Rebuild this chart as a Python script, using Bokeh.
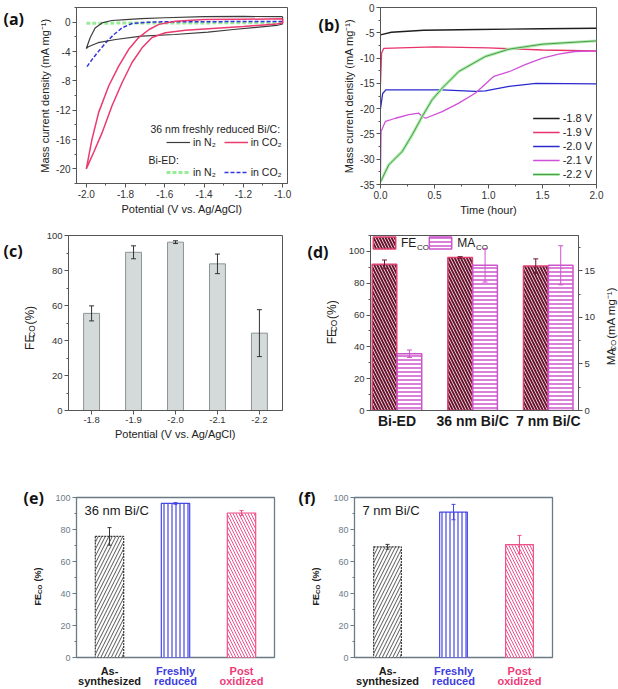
import numpy as np
from math import pi
from bokeh.plotting import figure
from bokeh.models import (Range1d, LinearAxis, SingleIntervalTicker, FixedTicker,
                          Legend, LegendItem, Label, ColumnDataSource, PrintfTickFormatter,
                          Whisker, TeeHead)
from bokeh.layouts import column, row
from bokeh.embed import file_html
from bokeh.resources import INLINE
from bokeh.core.properties import value

# ---------------- data ----------------
# (a) cyclic voltammograms (potential V vs Ag/AgCl, mass current density mA/mg)
cv36_n2_v = [-1.0, -1.03, -1.2, -1.4, -1.6, -1.72, -1.8, -1.87, -1.92, -1.955, -1.98, -2.0,
             -1.99, -1.94, -1.85, -1.72, -1.55, -1.38, -1.25, -1.03, -1.0, -1.0]
cv36_n2_j = [0.75, 0.75, 0.78, 0.75, 0.6, 0.48, 0.36, 0.23, -0.1, -0.8, -2.1, -3.6,
             -3.35, -2.8, -2.36, -1.9, -1.68, -1.36, -1.0, -0.45, -0.25, 0.75]
cv36_co2_v = [-1.0, -1.2, -1.4, -1.546, -1.63, -1.68, -1.733, -1.784, -1.835, -1.886, -1.937,
              -1.971, -2.0, -1.96, -1.92, -1.869, -1.818, -1.767, -1.716, -1.665, -1.597,
              -1.495, -1.378, -1.2, -1.03, -1.0, -1.0]
cv36_co2_j = [0.45, 0.4, 0.35, 0.14, -0.3, -1.0, -2.1, -3.7, -6.0, -8.7, -12.3,
              -15.96, -20.0, -17.6, -15.1, -11.4, -8.26, -5.5, -3.5, -2.1, -1.45,
              -1.1, -0.9, -0.6, -0.25, -0.1, 0.45]
cved_n2_v = [-2.0, -1.8, -1.6, -1.4, -1.2, -1.0]
cved_n2_j = [-0.15, -0.12, -0.1, -0.1, -0.08, -0.05]
cved_co2_v = [-1.0, -1.2, -1.4, -1.6, -1.68, -1.767, -1.818, -1.86, -1.894, -1.937, -1.971, -2.0]
cved_co2_j = [0.1, 0.1, 0.05, 0.05, 0.0, -0.18, -0.78, -1.7, -2.6, -3.95, -5.1, -6.2]

# (b) chronoamperometry (time h, mass current density mA/mg)
ca_labels = ["-1.8 V", "-1.9 V", "-2.0 V", "-2.1 V", "-2.2 V"]
ca18_t = [0, 0.1, 0.4, 0.9, 1.5, 2.0]
ca18_j = [-5.4, -4.9, -4.5, -4.35, -4.2, -4.1]
ca19_t = [0, 0.01, 0.03, 0.5, 1.0, 1.5, 2.0]
ca19_j = [-15.0, -9.0, -8.1, -7.8, -8.0, -8.4, -8.6]
ca20_t = [0, 0.02, 0.05, 0.57, 0.88, 0.97, 1.19, 1.44, 2.0]
ca20_j = [-20.0, -17.0, -16.3, -16.3, -16.6, -16.5, -15.6, -15.0, -15.1]
ca21_t = [0, 0.005, 0.046, 0.139, 0.262, 0.355, 0.386, 0.417, 0.571, 0.725, 0.88, 1.05,
          1.19, 1.34, 1.5, 1.65, 1.8, 2.0]
ca21_j = [-33.0, -24.5, -22.5, -21.9, -21.2, -20.9, -21.55, -21.9, -20.6, -18.9, -16.9, -13.6,
          -12.7, -11.3, -10.0, -9.2, -8.7, -8.56]
ca22_t = [0, 0.077, 0.2, 0.293, 0.386, 0.478, 0.571, 0.725, 0.97, 1.19, 1.5, 2.0]
ca22_j = [-34.5, -31.1, -28.5, -25.2, -21.55, -18.25, -15.95, -12.65, -9.7, -8.24, -7.25, -6.6]

# (c) FE_CO vs potential
potentials = ["-1.8", "-1.9", "-2.0", "-2.1", "-2.2"]
fe_pot = [55.5, 90.4, 96.2, 83.8, 44.2]
fe_pot_err = [4.3, 3.7, 0.8, 5.6, 13.4]

# (d) FE_CO and MA_CO per catalyst
samples = ["Bi-ED", "36 nm Bi/C", "7 nm Bi/C"]
fe_samp = [92.0, 96.2, 90.8]
fe_samp_err = [2.6, 0.5, 4.5]
ma_samp = [6.1, 15.6, 15.6]
ma_samp_err = [0.4, 1.8, 2.1]

# (e), (f) FE_CO per state
states = ["As-\nsynthesized", "Freshly\nreduced", "Post\noxidized"]
fe_36 = [75.7, 96.3, 90.3]
fe_36_err = [5.5, 0.5, 1.5]
fe_7 = [69.2, 90.9, 70.6]
fe_7_err = [1.5, 4.8, 5.7]

# ---------------- helpers ----------------
FONT = "Liberation Sans"
W = {'F': 0.611, 'E': 0.667, 'C': 0.722, 'O': 0.778, 'M': 0.833, 'A': 0.667,
     '(': 0.333, ')': 0.333, '%': 0.889, ' ': 0.278, 'm': 0.833, 'a': 0.556,
     'g': 0.556, '\u207b': 0.32, '\u00b9': 0.33}


def tw(s, size):
    return sum(W.get(c, 0.556) for c in s) * size


def make_fig(fw, fh, bl, br, bt, bb, xr, yr, line="#555555"):
    p = figure(frame_width=fw, frame_height=fh, min_border_left=bl, min_border_right=br,
               min_border_top=bt, min_border_bottom=bb, x_range=xr, y_range=yr,
               output_backend="svg", toolbar_location=None)
    p.xgrid.visible = False
    p.ygrid.visible = False
    p.outline_line_color = line
    p.outline_line_width = 1
    p.background_fill_color = "white"
    p.border_fill_color = "white"
    return p


def label_fig(w, h):
    p = figure(width=w, height=h, x_range=Range1d(0, w), y_range=Range1d(0, h),
               min_border_left=0, min_border_right=0, min_border_top=0, min_border_bottom=0,
               x_axis_location=None, y_axis_location=None,
               output_backend="svg", toolbar_location=None)
    p.outline_line_color = None
    p.grid.visible = False
    p.background_fill_color = "white"
    p.border_fill_color = "white"
    return p


def style_axis(ax, size="10px", color="#333333", line="#555555"):
    ax.axis_line_color = line
    ax.major_tick_line_color = line
    ax.minor_tick_line_color = line
    ax.major_tick_out = 4
    ax.major_tick_in = 0
    ax.minor_tick_out = 2
    ax.minor_tick_in = 0
    ax.major_label_text_font = FONT
    ax.major_label_text_font_size = size
    ax.major_label_text_color = color
    ax.major_label_standoff = 2
    ax.axis_label_text_font = FONT
    ax.axis_label_text_font_style = "normal"
    ax.axis_label_text_font_size = "11px"
    ax.axis_label_text_color = "#222222"
    ax.axis_label_standoff = 2


def panel_label(lp, text, x, y):
    lp.text(x=[x], y=[y], text=[text], text_font=value("Open Sans"),
            text_font_style="bold", text_font_size=value("16px"), text_color="#111111",
            text_baseline="middle", text_align="left")


def vlabel(lp, x, yc, pieces, color="#222222", style="normal"):
    total = sum(tw(t, s) + g for t, s, sh, g in pieces)
    y = yc - total / 2
    for t, s, sh, g in pieces:
        y += g
        lp.text(x=[x + sh], y=[y], text=[t], angle=pi / 2, text_font=value(FONT),
                text_font_size=value(f"{s:.1f}px"), text_font_style=style,
                text_color=color, text_align="left", text_baseline="middle")
        y += tw(t, s)


def sub_pieces(main, sub, rest, s):
    return [(main, s, 0, 0), (sub, 0.68 * s, 0.25 * s, 0), (rest, s, 0, 0.35 * s)]


def whisker(p, x, v, e, color, size=5, width=1.0, yname="default"):
    v = np.asarray(v, dtype=float)
    e = np.asarray(e, dtype=float)
    src = ColumnDataSource(dict(base=list(x), upper=list(v + e), lower=list(v - e)))
    w = Whisker(source=src, base="base", upper="upper", lower="lower",
                line_color=color, line_width=width, y_range_name=yname,
                upper_head=TeeHead(size=size, line_color=color, line_width=width),
                lower_head=TeeHead(size=size, line_color=color, line_width=width))
    w.level = "overlay"
    p.add_layout(w)


H1, H2, H3 = 229, 219, 239
BL = 31  # left border of the bar panels

# ---------------- (a) ----------------
La = label_fig(30, H1)
panel_label(La, "(a)", 3, H1 - 15)
fa = make_fig(211, 176, 46, 10, 7, 46, Range1d(-2.05, -0.975), Range1d(-22, 2))
fa.xaxis.ticker = SingleIntervalTicker(interval=0.2, num_minor_ticks=2)
fa.yaxis.ticker = SingleIntervalTicker(interval=4, num_minor_ticks=2)
fa.xaxis.formatter = PrintfTickFormatter(format="%.1f")
fa.yaxis.formatter = PrintfTickFormatter(format="%d")
fa.xaxis.axis_label = "Potential (V vs. Ag/AgCl)"
fa.yaxis.axis_label = "Mass current density (mA mg\u207b\u00b9)"
for ax in fa.axis:
    style_axis(ax)
r_ed_n2 = fa.line(cved_n2_v, cved_n2_j, line_color="#98ec98", line_width=3, line_dash="4 2")
r_ed_co2 = fa.line(cved_co2_v, cved_co2_j, line_color="#3535e0", line_width=1.5, line_dash="4 2")
r_n2 = fa.line(cv36_n2_v, cv36_n2_j, line_color="#3c3c3c", line_width=1.2)
r_co2 = fa.line(cv36_co2_v, cv36_co2_j, line_color="#ea3a6f", line_width=1.5)

leg_kw = dict(orientation="horizontal", glyph_width=24, glyph_height=12, label_height=12,
              label_width=10, label_standoff=3, spacing=8, padding=0, margin=0,
              border_line_alpha=0, background_fill_alpha=0, label_text_font=FONT,
              label_text_font_size="10.5px", label_text_color="#222222")
fa.add_layout(Legend(items=[LegendItem(label="in N\u2082", renderers=[r_n2]),
                            LegendItem(label="in CO\u2082", renderers=[r_co2])],
                     location=(90, 35), **leg_kw))
fa.add_layout(Legend(items=[LegendItem(label="in N\u2082", renderers=[r_ed_n2]),
                            LegendItem(label="in CO\u2082", renderers=[r_ed_co2])],
                     location=(90, 5), **leg_kw))
fa.add_layout(Label(x=74, y=55, x_units="screen", y_units="screen",
                    text="36 nm freshly reduced Bi/C:", text_font=FONT, text_font_size="10.5px",
                    text_color="#222222", text_baseline="middle"))
fa.add_layout(Label(x=72, y=24, x_units="screen", y_units="screen",
                    text="Bi-ED:", text_font=FONT, text_font_size="10.5px",
                    text_color="#222222", text_baseline="middle"))

# ---------------- (b) ----------------
Lb = label_fig(43, H1)
panel_label(Lb, "(b)", 21, H1 - 23)
fb = make_fig(216, 177, 40, 8, 6, 46, Range1d(0, 2), Range1d(-35, 0))
fb.xaxis.ticker = SingleIntervalTicker(interval=0.5, num_minor_ticks=2)
fb.yaxis.ticker = SingleIntervalTicker(interval=5, num_minor_ticks=2)
fb.xaxis.formatter = PrintfTickFormatter(format="%.1f")
fb.yaxis.formatter = PrintfTickFormatter(format="%d")
fb.xaxis.axis_label = "Time (hour)"
fb.yaxis.axis_label = "Mass current density (mA mg\u207b\u00b9)"
for ax in fb.axis:
    style_axis(ax)
rb1 = fb.line(ca18_t, ca18_j, line_color="#1e1e1e", line_width=1.4)
rb2 = fb.line(ca19_t, ca19_j, line_color="#e8336b", line_width=1.3)
rb3 = fb.line(ca20_t, ca20_j, line_color="#2a2ad0", line_width=1.3)
rb4 = fb.line(ca21_t, ca21_j, line_color="#d050d8", line_width=1.3)
rb5a = fb.line(ca22_t, ca22_j, line_color="#a8eea8", line_width=3)
rb5b = fb.line(ca22_t, ca22_j, line_color="#3f7f3f", line_width=0.8)
fb.add_layout(Legend(items=[LegendItem(label=ca_labels[0], renderers=[rb1]),
                            LegendItem(label=ca_labels[1], renderers=[rb2]),
                            LegendItem(label=ca_labels[2], renderers=[rb3]),
                            LegendItem(label=ca_labels[3], renderers=[rb4]),
                            LegendItem(label=ca_labels[4], renderers=[rb5a, rb5b])],
                     location="bottom_right", orientation="vertical", glyph_width=27,
                     glyph_height=12, label_height=12, label_width=10, label_standoff=3,
                     spacing=2, padding=2, margin=2, border_line_alpha=0,
                     background_fill_alpha=0, label_text_font=FONT,
                     label_text_font_size="11px", label_text_color="#222222"))

# ---------------- (c) ----------------
idx5 = np.arange(len(potentials))
Lc = label_fig(37, H2)
panel_label(Lc, "(c)", 3, H2 - 19)
vlabel(Lc, 29, 101, sub_pieces("FE", "CO", "(%)", 12))
fc = make_fig(214, 175, BL, 10, 6, 38, Range1d(-0.55, 4.55), Range1d(0, 100))
fc.xaxis.ticker = FixedTicker(ticks=list(idx5))
fc.xaxis.major_label_overrides = {int(i): lab for i, lab in zip(idx5, potentials)}
fc.yaxis.ticker = SingleIntervalTicker(interval=20, num_minor_ticks=2)
fc.xaxis.axis_label = "Potential (V vs. Ag/AgCl)"
for ax in fc.axis:
    style_axis(ax, size="9.5px")
fc.vbar(x=idx5, top=fe_pot, width=0.38, fill_color="#d4dada", line_color="#8c9494",
        line_width=1)
whisker(fc, idx5, fe_pot, fe_pot_err, "#333333", size=5)

# ---------------- (d) ----------------
idx3 = np.arange(len(samples))
Ld = label_fig(47, H2)
panel_label(Ld, "(d)", 15, H2 - 21)
vlabel(Ld, 39, 108, sub_pieces("FE", "CO", "(%)", 12))
Rd = label_fig(14, H2)
vlabel(Rd, 6.5, 99, sub_pieces("MA", "CO", "(mA mg\u207b\u00b9)", 11.5))
fd = make_fig(208, 175, BL, 26, 6, 38, Range1d(-0.35, 2.4), Range1d(0, 110))
fd.extra_y_ranges = {"ma": Range1d(0, 18.8)}
ax_r = LinearAxis(y_range_name="ma", ticker=SingleIntervalTicker(interval=5, num_minor_ticks=2))
fd.add_layout(ax_r, "right")
fd.xaxis.ticker = FixedTicker(ticks=list(idx3))
fd.xaxis.major_label_overrides = {int(i): lab for i, lab in zip(idx3, samples)}
fd.left[0].ticker = SingleIntervalTicker(interval=20, num_minor_ticks=2)
for ax in fd.axis:
    style_axis(ax, size="9.5px")
fd.xaxis.major_label_text_font_size = "14px"
fd.xaxis.major_label_text_font_style = "bold"
fd.xaxis.major_label_text_color = "#1a1a1a"
fd.xaxis.major_tick_out = 0
r_fe = fd.vbar(x=idx3 - 0.165, top=fe_samp, width=0.325, fill_color="white",
               hatch_pattern="\\", hatch_color="#6b1530", hatch_scale=6, hatch_weight=2,
               line_color="#e0406e", line_width=1.5)
r_ma = fd.vbar(x=idx3 + 0.165, top=ma_samp, width=0.325, fill_color="white",
               hatch_pattern="-", hatch_color="#cc55cc", hatch_scale=4, hatch_weight=1.5,
               line_color="#cc55cc", line_width=1.5, y_range_name="ma")
whisker(fd, idx3 - 0.165, fe_samp, fe_samp_err, "#6b1530", size=5)
whisker(fd, idx3 + 0.165, ma_samp, ma_samp_err, "#cc55cc", size=5, yname="ma")
fd.add_layout(Legend(items=[LegendItem(label="FE", renderers=[r_fe]),
                            LegendItem(label="MA", renderers=[r_ma])],
                     location="top_left", orientation="horizontal", glyph_width=28,
                     glyph_height=15, label_height=15, label_width=10, label_standoff=3,
                     spacing=10, padding=0, margin=0, border_line_alpha=0,
                     background_fill_alpha=0, label_text_font=FONT,
                     label_text_font_size="12px", label_text_color="#1a1a1a"))
for xx in (46.5, 105.5):
    fd.add_layout(Label(x=xx, y=175 - 11.5, x_units="screen", y_units="screen", text="CO",
                        text_font=FONT, text_font_size="8px", text_color="#1a1a1a",
                        text_baseline="middle"))

# ---------------- (e), (f) ----------------
state_colors = ["#1a1a1a", "#3d3de0", "#ee3b78"]
bar_styles = [dict(hatch_pattern="/", hatch_color="#555555", line_color="#3a3a3a",
                   line_dash="2 1", hatch_scale=7, hatch_weight=1),
              dict(hatch_pattern="|", hatch_color="#4646e6", line_color="#4646e6",
                   hatch_scale=4, hatch_weight=1.2),
              dict(hatch_pattern="\\", hatch_color="#f0508a", line_color="#f0508a",
                   hatch_scale=6, hatch_weight=1)]
EF_LINE = "#6b7b86"
EF_TOP, EF_FH, EF_BOT, EF_CAT = 49, 160, 6, 24


def state_panel(vals, errs, title, width):
    p = make_fig(198, EF_FH, BL, 10, EF_TOP, EF_BOT, Range1d(-0.5, 2.5), Range1d(0, 100),
                 line=EF_LINE)
    p.outline_line_width = 1.3
    p.xaxis.visible = False
    p.yaxis.ticker = SingleIntervalTicker(interval=20, num_minor_ticks=2)
    for ax in p.axis:
        style_axis(ax, size="9px", color=EF_LINE, line=EF_LINE)
    for i in range(len(vals)):
        p.vbar(x=[idx3[i]], top=[vals[i]], width=width, fill_color="white",
               line_width=1.2, **bar_styles[i])
        whisker(p, [idx3[i]], [vals[i]], [errs[i]], bar_styles[i]["line_color"], size=4)
    p.add_layout(Label(x=8, y=EF_FH - 13, x_units="screen", y_units="screen", text=title,
                       text_font=FONT, text_font_size="13px", text_color="#1a1a1a",
                       text_baseline="middle"))
    cat = figure(width=BL + 198 + 10, height=EF_CAT, x_range=p.x_range,
                 y_range=Range1d(0, EF_CAT), min_border_left=BL, min_border_right=10,
                 min_border_top=0, min_border_bottom=0, x_axis_location=None,
                 y_axis_location=None, output_backend="svg", toolbar_location=None)
    cat.outline_line_color = None
    cat.grid.visible = False
    cat.text(x=list(idx3), y=[EF_CAT - 1] * 3, text=states, text_color=state_colors,
             text_font=value(FONT), text_font_style="bold", text_font_size=value("11px"),
             text_align="center", text_baseline="top", text_line_height=0.9)
    return column(p, cat)


Le = label_fig(45, H3)
panel_label(Le, "(e)", 23, H3 - EF_TOP)
vlabel(Le, 37, EF_CAT + EF_BOT + 71, sub_pieces("FE", "CO", "(%)", 9), style="bold")
pe = state_panel(fe_36, fe_36_err, "36 nm Bi/C", 0.43)
Lf = label_fig(39, H3)
panel_label(Lf, "(f)", 14, H3 - EF_TOP)
vlabel(Lf, 31, EF_CAT + EF_BOT + 71, sub_pieces("FE", "CO", "(%)", 9), style="bold")
pf = state_panel(fe_7, fe_7_err, "7 nm Bi/C", 0.42)

layout = column(row(La, fa, Lb, fb), row(Lc, fc, Ld, fd, Rd), row(Le, pe, Lf, pf))
open("out.html", "w").write(file_html(layout, INLINE))
